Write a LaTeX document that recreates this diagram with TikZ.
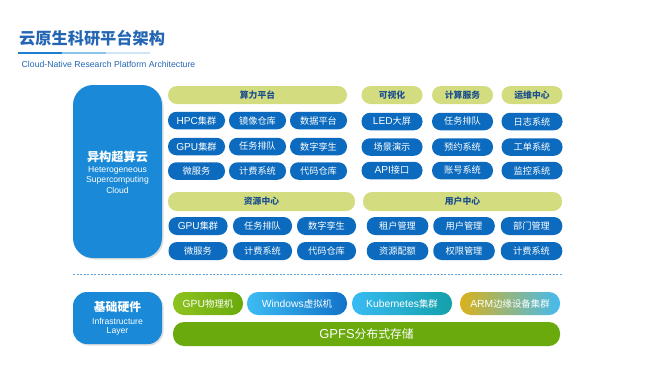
\documentclass[tikz,border=0pt]{standalone}
\usepackage{fontspec}
\setmainfont{Noto Sans CJK SC}
\newfontfamily\lat[Scale=1.1]{Liberation Sans}
\newfontfamily\latn{Liberation Sans}
\usetikzlibrary{shadows}
\definecolor{titleblue}{HTML}{2466B4}
\definecolor{nodeblue}{HTML}{0C6BBE}
\definecolor{bigblue}{HTML}{1A8AD8}
\definecolor{hdrgreen}{HTML}{D3DC7E}
\definecolor{hdrtext}{HTML}{1B4F8E}
\definecolor{gpfsgreen}{HTML}{6AAA0C}
\definecolor{gpugreenL}{HTML}{8EC31F}
\definecolor{winL}{HTML}{3CBCF3}
\definecolor{winR}{HTML}{1272C8}
\definecolor{kubL}{HTML}{38BBF3}
\definecolor{kubR}{HTML}{14A0AA}
\definecolor{armL}{HTML}{D8B21C}
\definecolor{armR}{HTML}{45BAF0}
\definecolor{barA}{HTML}{1E7FD0}
\definecolor{barB}{HTML}{8CC4EC}
\definecolor{barC}{HTML}{CFE6F7}
\begin{document}
\begin{tikzpicture}[x=1pt,y=-1pt,
  blbox/.style={fill=nodeblue,text=white,rounded corners=8.5pt,inner sep=0pt,
    font=\fontsize{9.2}{10}\selectfont},
  hdr/.style={fill=hdrgreen,text=hdrtext,rounded corners=9pt,inner sep=0pt,
    font=\fontsize{8.8}{10}\selectfont\bfseries},
  bigbox/.style={fill=bigblue,text=white,inner sep=0pt,
    drop shadow={opacity=0.25,shadow xshift=1.5pt,shadow yshift=-1.5pt}},
  hwbox/.style={text=white,rounded corners=11pt,inner sep=0pt,
    font=\fontsize{9.4}{10}\selectfont},
  lbl/.style={inner sep=0pt,text=white}
]
\useasboundingbox (0,0) rectangle (650,365);
% title
\node[anchor=west,inner sep=0pt,text=titleblue,font=\fontsize{16.2}{17}\selectfont\bfseries] (title) at (19,38.5) {云原生科研平台架构};
\draw[barA,line width=2pt] (18,53) -- (62,53);
\draw[barB,line width=2pt] (62,53) -- (106,53);
\draw[barC,line width=2pt] (106,53) -- (150,53);
\node[anchor=west,inner sep=0pt,text=titleblue,font=\latn\fontsize{8.7}{9}\selectfont] (subtitle) at (21.5,64.5) {Cloud-Native Research Platform Architecture};

% big left box
\node[bigbox,rounded corners=20pt,minimum width=89pt,minimum height=173pt] (hetero) at (117.5,171.5) {};
\node[lbl,font=\fontsize{12.2}{13}\selectfont\bfseries] (heteroT) at (117.5,157) {异构超算云};
\node[lbl,font=\latn\fontsize{8.6}{9}\selectfont] (heteroE1) at (117.5,170) {Heterogeneous};
\node[lbl,font=\latn\fontsize{8.6}{9}\selectfont] (heteroE2) at (117.5,180) {Supercomputing};
\node[lbl,font=\latn\fontsize{8.6}{9}\selectfont] (heteroE3) at (117.5,190) {Cloud};

% 算力平台
\node[hdr,minimum width=179pt,minimum height=18pt] (hA) at (257.5,95) {算力平台};
\foreach \n/\t/\x/\y in {a1/{{\lat HPC}集群}/196.5/120.5, a2/镜像仓库/257.5/120.5, a3/数据平台/318.5/120.5,
  a4/{{\lat GPU}集群}/196.5/146.5, a5/任务排队/257.5/146.5, a6/数字孪生/318.5/146.5,
  a7/微服务/196.5/171, a8/计费系统/257.5/171, a9/代码仓库/318.5/171}
  \node[blbox,minimum width=57pt,minimum height=17.5pt] (\n) at (\x,\y) {\t};

% right top three columns
\node[hdr,minimum width=61pt,minimum height=18pt] (hB) at (392,95) {可视化};
\node[hdr,minimum width=61pt,minimum height=18pt] (hC) at (462.5,95) {计算服务};
\node[hdr,minimum width=61pt,minimum height=18pt] (hD) at (532,95) {运维中心};
\foreach \n/\t/\x/\y in {b1/{{\lat LED}大屏}/392/121.5, b2/场景演示/392/147, b3/{{\lat API}接口}/392/170.5,
  c1/任务排队/462.5/121.5, c2/预约系统/462.5/147, c3/账号系统/462.5/170.5,
  d1/日志系统/532/121.5, d2/工单系统/532/147, d3/监控系统/532/170.5}
  \node[blbox,minimum width=61pt,minimum height=17.5pt] (\n) at (\x,\y) {\t};

% 资源中心
\node[hdr,minimum width=187pt,minimum height=19pt] (hE) at (261.5,201.5) {资源中心};
\foreach \n/\t/\x/\y in {e1/{{\lat GPU}集群}/198/226, e2/任务排队/262.5/226, e3/数字孪生/326.5/226,
  e4/微服务/198/251, e5/计费系统/262.5/251, e6/代码仓库/326.5/251}
  \node[blbox,minimum width=59pt,minimum height=18pt] (\n) at (\x,\y) {\t};

% 用户中心
\node[hdr,minimum width=199pt,minimum height=19pt] (hF) at (462.5,201.5) {用户中心};
\foreach \n/\t/\x/\y in {f1/租户管理/397.5/226, f2/用户管理/464/226, f3/部门管理/531.5/226,
  f4/资源配额/397.5/251, f5/权限管理/464/251, f6/计费系统/531.5/251}
  \node[blbox,minimum width=61.5pt,minimum height=18pt] (\n) at (\x,\y) {\t};

% dashed separator
\coordinate (sepL) at (73,274);
\coordinate (sepR) at (562,274);
\draw[barA!70,line width=0.9pt,dash pattern=on 2pt off 1.5pt] (sepL) -- (sepR);

% infrastructure
\node[bigbox,rounded corners=14pt,minimum width=89pt,minimum height=52pt] (infra) at (117.5,318) {};
\node[lbl,font=\fontsize{11.8}{12}\selectfont\bfseries] (infraT) at (117.5,307) {基础硬件};
\node[lbl,font=\latn\fontsize{8.6}{9}\selectfont] (infraE1) at (117.5,321) {Infrastructure};
\node[lbl,font=\latn\fontsize{8.6}{9}\selectfont] (infraE2) at (117.5,331.5) {Layer};

\node[hwbox,left color=gpugreenL,right color=gpfsgreen,minimum width=70pt,minimum height=23pt] (g1) at (208,303.5) {{\lat GPU}物理机};
\node[hwbox,left color=winL,right color=winR,minimum width=100pt,minimum height=23pt] (g2) at (297,303.5) {{\lat Windows}虚拟机};
\node[hwbox,left color=kubL,right color=kubR,minimum width=100pt,minimum height=23pt] (g3) at (402,303.5) {{\lat Kubernetes}集群};
\node[hwbox,left color=armL,right color=armR,minimum width=100pt,minimum height=23pt] (g4) at (510,303.5) {{\lat ARM}边缘设备集群};
\node[hwbox,fill=gpfsgreen,minimum width=387pt,minimum height=24pt,font=\fontsize{11.8}{12}\selectfont] (gpfs) at (366.5,334) {{\lat GPFS}分布式存储};
\end{tikzpicture}
\end{document}
